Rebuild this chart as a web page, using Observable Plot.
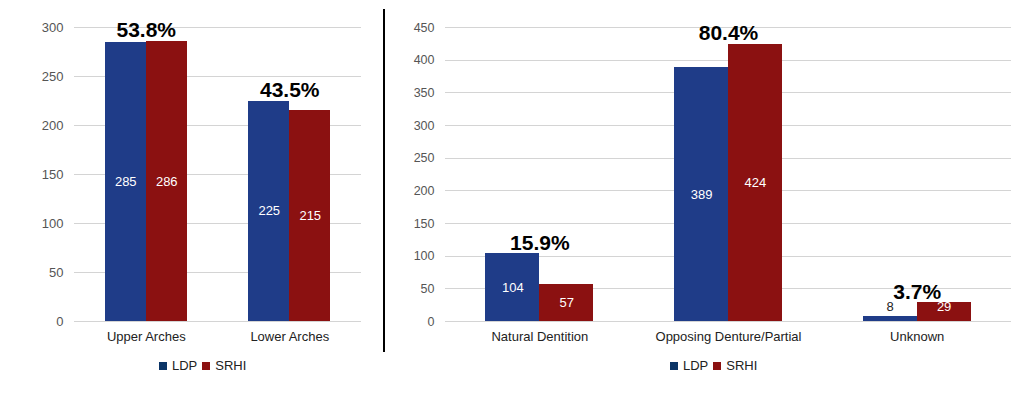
<!DOCTYPE html>
<html>
<head>
<meta charset="utf-8">
<script src="https://cdn.jsdelivr.net/npm/d3@7"></script>
<script src="https://cdn.jsdelivr.net/npm/@observablehq/plot@0.6"></script>
<style>
  body { margin: 0; background: #fff; }
  #wrap { position: relative; width: 1032px; height: 401px; overflow: hidden; background: #fff; }
  #left { position: absolute; left: 0; top: 0; }
  #right { position: absolute; left: 388px; top: 0; }
  #divider { position: absolute; left: 383px; top: 9px; width: 2px; height: 343px; background: #000; }
  .legend { position: absolute; top: 359px; display: flex; align-items: center; font-family: "Liberation Sans", Arial, sans-serif; font-size: 13px; line-height: 14px; color: #222; white-space: nowrap; }
  .legend .sq { display: inline-block; width: 8px; height: 8px; margin-right: 5px; }
  .legend .item { display: flex; align-items: center; margin-right: 5px; }
  #legL { left: 159px; }
  #legR { left: 670px; }
</style>
</head>
<body>
<div id="wrap">
  <div id="left"></div>
  <div id="divider"></div>
  <div id="right"></div>
  <div id="legL" class="legend"></div>
  <div id="legR" class="legend"></div>
</div>
<script>
// ---- data ----
const series = ["LDP", "SRHI"];
const barColors = ["#1f3c88", "#8b1111"];
const legendColors = ["#0b3466", "#8b1111"];

const archCategories = ["Upper Arches", "Lower Arches"];
const archLDP = [285, 225];
const archSRHI = [286, 215];
const archPct = ["53.8%", "43.5%"];
const archTicks = [0, 50, 100, 150, 200, 250, 300];

const oppCategories = ["Natural Dentition", "Opposing Denture/Partial", "Unknown"];
const oppLDP = [104, 389, 8];
const oppSRHI = [57, 424, 29];
const oppPct = ["15.9%", "80.4%", "3.7%"];
const oppTicks = [0, 50, 100, 150, 200, 250, 300, 350, 400, 450];

function makeChart(o) {
  const rows = o.categories.flatMap((c, i) => [
    {cat: c, series: "LDP", value: o.ldp[i]},
    {cat: c, series: "SRHI", value: o.srhi[i]}
  ]);
  const pctRows = o.categories.map((c, i) => ({cat: c, label: o.pct[i], top: Math.max(o.ldp[i], o.srhi[i])}));
  const labelY = d => Math.max(d.value / 2, o.minLabel);
  return Plot.plot({
    width: o.width,
    height: 350,
    marginLeft: o.marginLeft,
    marginRight: o.marginRight,
    marginTop: 27,
    marginBottom: 29,
    style: {fontFamily: '"Liberation Sans", Arial, sans-serif', background: "transparent", overflow: "visible"},
    fx: {domain: o.categories, padding: 0, round: false, label: null},
    x: {domain: series, paddingInner: 0, paddingOuter: 0.75, round: false, axis: null},
    y: {domain: [0, o.ticks[o.ticks.length - 1]], label: null},
    color: {domain: series, range: barColors},
    marks: [
      Plot.gridY({ticks: o.ticks, stroke: "#d4d4d4", strokeOpacity: 1, shapeRendering: "crispEdges"}),
      Plot.barY(rows, {fx: "cat", x: "series", y: "value", fill: "series", shapeRendering: "crispEdges"}),
      Plot.text(rows, {
        fx: "cat", x: "series", y: labelY,
        text: d => String(d.value),
        fill: d => d.value > o.minLabel ? "white" : "#222",
        fontSize: 13
      }),
      Plot.text(pctRows, {
        fx: "cat", y: "top", text: "label",
        fontWeight: "bold", fontSize: 21, fill: "black",
        lineAnchor: "bottom", dy: -4
      }),
      Plot.axisY({ticks: o.ticks, tickSize: 0, tickPadding: 11, fontSize: o.tickFont, fill: "#555", label: null}),
      Plot.axisFx({anchor: "bottom", tickSize: 0, tickPadding: 10, fontSize: 13, fill: "#222", label: null})
    ]
  });
}

document.getElementById("left").append(makeChart({
  categories: archCategories, ldp: archLDP, srhi: archSRHI, pct: archPct, ticks: archTicks,
  width: 380, marginLeft: 74, marginRight: 19, minLabel: 23, tickFont: 13
}));

document.getElementById("right").append(makeChart({
  categories: oppCategories, ldp: oppLDP, srhi: oppSRHI, pct: oppPct, ticks: oppTicks,
  width: 644, marginLeft: 57, marginRight: 21, minLabel: 23, tickFont: 12.5
}));

function legend(id) {
  const el = document.getElementById(id);
  series.forEach((s, i) => {
    const item = document.createElement("span");
    item.className = "item";
    const sq = document.createElement("span");
    sq.className = "sq";
    sq.style.background = legendColors[i];
    item.append(sq, document.createTextNode(s));
    el.append(item);
  });
}
legend("legL");
legend("legR");
</script>
</body>
</html>
